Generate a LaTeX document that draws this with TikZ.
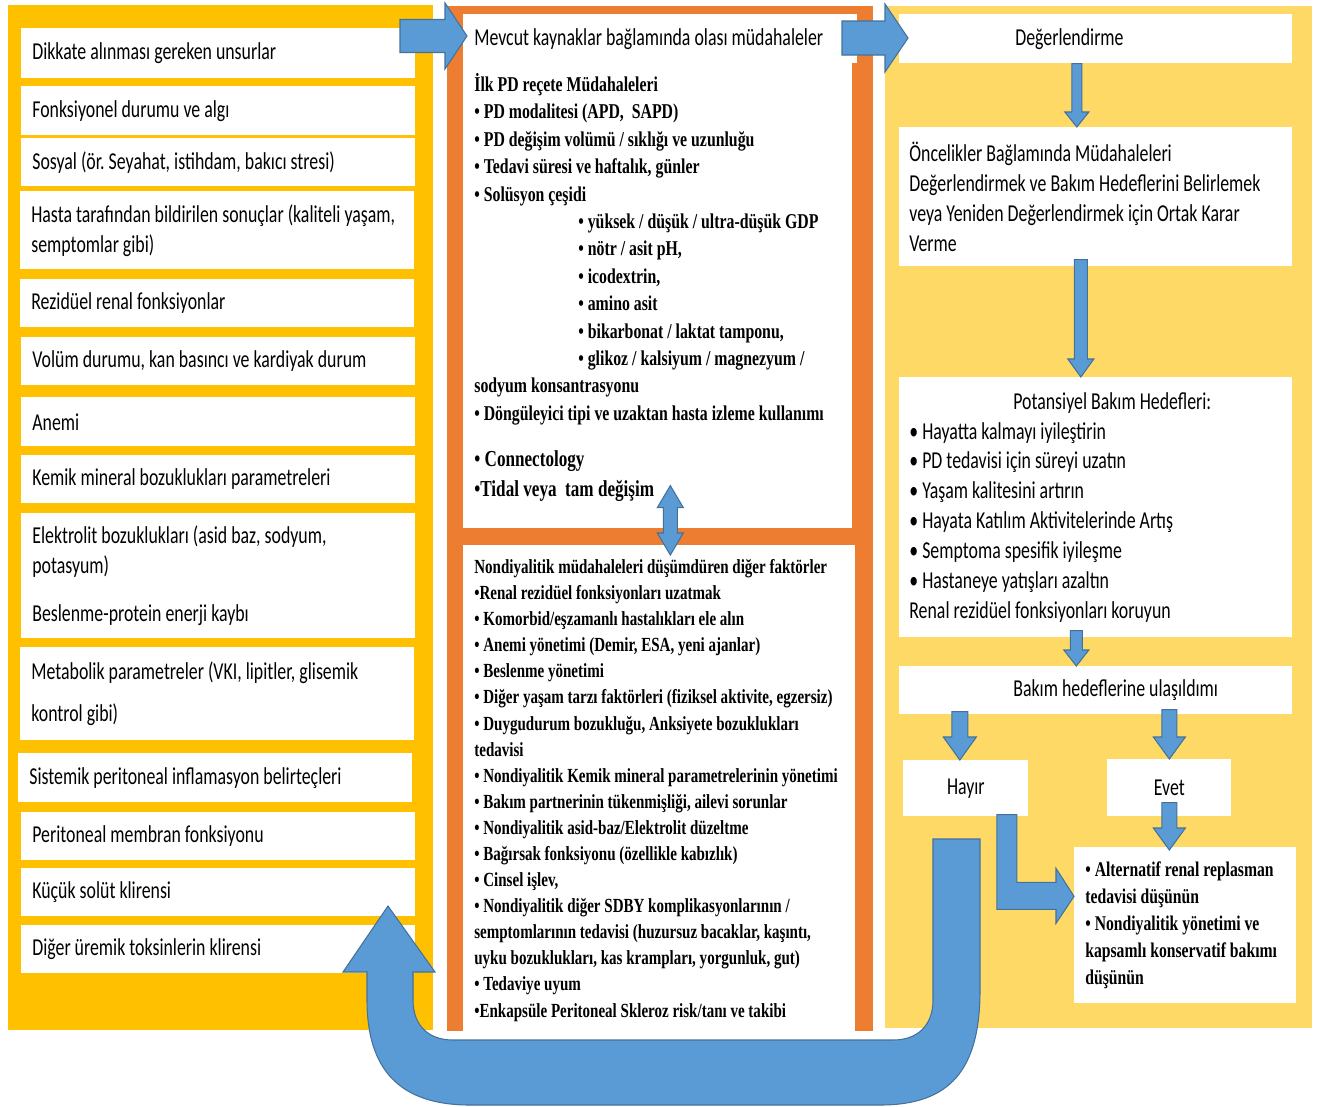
\documentclass[tikz,border=0pt]{standalone}
\usepackage{fontspec}
\setmainfont{Carlito}[FakeStretch=0.735]
\newfontfamily\tnrfont{Liberation Serif}[FakeStretch=0.75]
\usetikzlibrary{calc}
\frenchspacing

\definecolor{leftgold}{HTML}{FFC000}
\definecolor{midorange}{HTML}{ED7D31}
\definecolor{rightgold}{HTML}{FFD966}
\definecolor{arrowblue}{HTML}{5B9BD5}
\definecolor{arrowedge}{HTML}{41719C}

\newcommand{\sansfs}{\fontsize{13.8}{17}\selectfont}
\newcommand{\serfs}{\tnrfont\bfseries\fontsize{12}{15.6}\selectfont}
\newcommand{\serbigfs}{\tnrfont\bfseries\fontsize{13}{17}\selectfont}
\newcommand{\sersmallfs}{\tnrfont\bfseries\fontsize{11.4}{14.85}\selectfont}
\newcommand{\altfs}{\tnrfont\bfseries\fontsize{11.9}{15.3}\selectfont}

\tikzset{
  panel/.style={anchor=north west, inner sep=0pt},
  wbox/.style={fill=white, anchor=north west, inner xsep=0.22cm, inner ysep=0pt, align=flush left, font=\sansfs},
  lbox/.style={wbox, text width=7.44cm},
  rbox/.style={wbox, inner xsep=0.2cm, text width=7.46cm},
  mtext/.style={anchor=north west, inner sep=0pt, align=left, font=\serfs},
  blk/.style={fill=arrowblue, draw=arrowedge, line width=0.6pt, line join=miter},
}

\newcommand{\vblk}[5]{%
  \draw[blk] ($#1+(-#3,0)$) -- ($#2+(-#3,-#5)$) -- ($#2+(-#4,-#5)$) -- #2
    -- ($#2+(#4,-#5)$) -- ($#2+(#3,-#5)$) -- ($#1+(#3,0)$) -- cycle;}
\newcommand{\hblk}[5]{%
  \draw[blk] ($#1+(0,-#3)$) -- ($#2+(-#5,-#3)$) -- ($#2+(-#5,-#4)$) -- #2
    -- ($#2+(-#5,#4)$) -- ($#2+(-#5,#3)$) -- ($#1+(0,#3)$) -- cycle;}

\begin{document}
\begin{tikzpicture}[x=0.02cm, y=-0.02cm]
\useasboundingbox (0,0) rectangle (1317,1106);
\node[panel, fill=leftgold, minimum width=8.5cm, minimum height=20.5cm] (lpanel) at (8,5) {};
\node[panel, fill=midorange, minimum width=8.52cm, minimum height=20.5cm] (mpanel) at (447,6) {};
\node[panel, fill=rightgold, minimum width=8.54cm, minimum height=20.44cm] (rpanel) at (885,6) {};

\node[lbox, minimum height=1.0cm] (dik) at (21,28) {Dikkate alınması gereken unsurlar};
\node[lbox, minimum height=0.98cm] (fon) at (21,86) {Fonksiyonel durumu ve algı};
\node[lbox, minimum height=0.96cm] (sos) at (21,138) {Sosyal (ör. Seyahat, istihdam, bakıcı stresi)};
\node[lbox, minimum height=1.56cm] (has) at (20,191) {Hasta tarafından bildirilen sonuçlar (kaliteli yaşam,\\ semptomlar gibi)};
\node[lbox, minimum height=0.96cm] (rez) at (20,279) {Rezidüel renal fonksiyonlar};
\node[lbox, minimum height=0.96cm] (vol) at (21,337) {Volüm durumu, kan basıncı ve kardiyak durum};
\node[lbox, minimum height=0.98cm] (ane) at (21,397) {Anemi};
\node[lbox, minimum height=0.96cm] (kem) at (21,455) {Kemik mineral bozuklukları parametreleri};
\node[lbox, minimum height=2.5cm] (ele) at (21,513) {Elektrolit bozuklukları (asid baz, sodyum,\\ potasyum)\\[10pt] Beslenme-protein enerji kaybı};
\node[lbox, minimum height=1.86cm] (met) at (20,647) {Metabolik parametreler (VKI, lipitler, glisemik\\[7pt] kontrol gibi)};
\node[lbox, minimum height=0.98cm] (sis) at (18,753) {Sistemik peritoneal inflamasyon belirteçleri};
\node[lbox, minimum height=0.96cm] (per) at (21,812) {Peritoneal membran fonksiyonu};
\node[lbox, minimum height=0.96cm] (kuc) at (21,868) {Küçük solüt klirensi};
\node[lbox, minimum height=0.96cm] (dig) at (21,925) {Diğer üremik toksinlerin klirensi};

\node[wbox, text width=7.44cm, minimum height=0.98cm] (mtitle) at (463,14) {Mevcut kaynaklar bağlamında olası müdahaleler};
\node[panel, fill=white, minimum width=7.78cm, minimum height=9.3cm] (mtop) at (463,63) {};
\node[panel, fill=white, minimum width=7.84cm, minimum height=9.72cm] (mbot) at (463,545) {};
\node[mtext] (presc) at (474,73) {İlk PD reçete Müdahaleleri\\
• PD modalitesi (APD,\ \ SAPD)\\
• PD değişim volümü / sıklığı ve uzunluğu\\
• Tedavi süresi ve haftalık, günler\\
• Solüsyon çeşidi\\
\hspace*{2.08cm}• yüksek / düşük / ultra-düşük GDP\\
\hspace*{2.08cm}• nötr / asit pH,\\
\hspace*{2.08cm}• icodextrin,\\
\hspace*{2.08cm}• amino asit\\
\hspace*{2.08cm}• bikarbonat / laktat tamponu,\\
\hspace*{2.08cm}• glikoz / kalsiyum / magnezyum /\\
sodyum konsantrasyonu\\
• Döngüleyici tipi ve uzaktan hasta izleme kullanımı};
\node[mtext, font=\serbigfs] (conn) at (474,450) {• Connectology\\ •Tidal veya\ \ tam değişim};
\node[mtext, font=\sersmallfs] (nondia) at (474,559) {Nondiyalitik müdahaleleri düşümdüren diğer faktörler\\
•Renal rezidüel fonksiyonları uzatmak\\
• Komorbid/eşzamanlı hastalıkları ele alın\\
• Anemi yönetimi (Demir, ESA, yeni ajanlar)\\
• Beslenme yönetimi\\
• Diğer yaşam tarzı faktörleri (fiziksel aktivite, egzersiz)\\
• Duygudurum bozukluğu, Anksiyete bozuklukları\\
tedavisi\\
• Nondiyalitik Kemik mineral parametrelerinin yönetimi\\
• Bakım partnerinin tükenmişliği, ailevi sorunlar\\
• Nondiyalitik asid-baz/Elektrolit düzeltme\\
• Bağırsak fonksiyonu (özellikle kabızlık)\\
• Cinsel işlev,\\
• Nondiyalitik diğer SDBY komplikasyonlarının /\\
semptomlarının tedavisi (huzursuz bacaklar, kaşıntı,\\
uyku bozuklukları, kas krampları, yorgunluk, gut)\\
• Tedaviye uyum\\
•Enkapsüle Peritoneal Skleroz risk/tanı ve takibi};

\node[rbox, minimum height=0.98cm] (deg) at (899,14) {\hspace*{2.12cm}Değerlendirme};
\node[rbox, minimum height=2.78cm] (onc) at (899,127) {Öncelikler Bağlamında Müdahaleleri\\ Değerlendirmek ve Bakım Hedeflerini Belirlemek\\ veya Yeniden Değerlendirmek için Ortak Karar\\ Verme};
\node[rbox, minimum height=5.2cm] (pot) at (899,377) {\hspace*{2.08cm}Potansiyel Bakım Hedefleri:\\
• Hayatta kalmayı iyileştirin\\
• PD tedavisi için süreyi uzatın\\
• Yaşam kalitesini artırın\\
• Hayata Katılım Aktivitelerinde Artış\\
• Semptoma spesifik iyileşme\\
• Hastaneye yatışları azaltın\\
Renal rezidüel fonksiyonları koruyun};
\node[rbox, minimum height=0.96cm] (bak) at (899,666) {\hspace*{2.08cm}Bakım hedeflerine ulaşıldımı};
\node[wbox, align=center, minimum width=2.5cm, minimum height=1.12cm] (hay) at (903,760) {Hayır};
\node[wbox, align=center, minimum width=2.48cm, minimum height=1.14cm] (evet) at (1107,759) {Evet};
\node[wbox, font=\altfs, inner xsep=0.22cm, text width=4.0cm, minimum height=3.12cm] (alt) at (1074,847) {• Alternatif renal replasman\\ tedavisi düşünün\\ • Nondiyalitik yönetimi ve\\ kapsamlı konservatif bakımı\\ düşünün};

\coordinate (la) at (400,36);
\coordinate (lat) at ($(la -| mtitle.west)+(4,0)$);
\hblk{(la)}{(lat)}{16.5}{33}{22}
\coordinate (ma) at (842,38);
\coordinate (mat) at ($(ma -| deg.west)+(9,0)$);
\hblk{(ma)}{(mat)}{17}{34}{23}

\coordinate (d1) at ($(deg.south)+(-19,0)$);
\coordinate (d1t) at (d1 |- onc.north);
\vblk{(d1)}{(d1t)}{5}{12}{15}
\coordinate (d2) at ($(onc.south)+(-15,-7)$);
\coordinate (d2t) at (d2 |- pot.north);
\vblk{(d2)}{(d2t)}{6.5}{13}{18}
\coordinate (d3) at ($(pot.south)+(-19.5,-7)$);
\coordinate (d3t) at (d3 |- bak.north);
\vblk{(d3)}{(d3t)}{6}{12.5}{16}
\coordinate (d4) at ($(bak.south -| hay.north)+(-6,-3)$);
\coordinate (d4t) at ($(hay.north)+(-6,0)$);
\vblk{(d4)}{(d4t)}{8}{16.5}{23}
\coordinate (d5) at ($(bak.south -| evet.north)+(0,-5)$);
\coordinate (d5t) at (evet.north);
\vblk{(d5)}{(d5t)}{7.5}{16}{22}
\coordinate (d6) at ($(evet.south)+(0,-14)$);
\coordinate (d6t) at ($(evet.south |- alt.north)+(0,3)$);
\vblk{(d6)}{(d6t)}{7.5}{16}{22}

\coordinate (bs) at ($(hay.south)+(31,-2)$);
\coordinate (bt) at ($(alt.west)+(0,-29)$);
\draw[blk] (bs) -- ($(bs)+(20,0)$) -- ($(bs |- bt)+(20,-14)$) -- ($(bt)+(-18,-14)$) -- ($(bt)+(-18,-28)$) -- (bt)
  -- ($(bt)+(-18,27)$) -- ($(bt)+(-18,13)$) -- ($(bs |- bt)+(0,13)$) -- cycle;

\coordinate (dt) at ($(mtop.south)+(12.5,-43)$);
\coordinate (db) at ($(mbot.north)+(11,10)$);
\draw[blk] (dt) -- ($(dt)+(13,22)$) -- ($(dt)+(7,22)$) -- ($(db)+(7,-22)$) -- ($(db)+(13,-22)$) -- (db)
  -- ($(db)+(-13,-22)$) -- ($(db)+(-7,-22)$) -- ($(dt)+(-7,22)$) -- ($(dt)+(-13,22)$) -- cycle;

\draw[blk] (933,839) -- (980,839) -- (980,990) .. controls (980,1070) and (950,1105) .. (880,1105)
  -- (470,1105) .. controls (400,1105) and (367,1070) .. (367,1000) -- (367,972) -- (343,972) -- (388,906)
  -- (435,972) -- (413,972) -- (413,1000) .. controls (413,1025) and (428,1040) .. (453,1040)
  -- (893,1040) .. controls (918,1040) and (933,1025) .. (933,1000) -- cycle;
\end{tikzpicture}
\end{document}
